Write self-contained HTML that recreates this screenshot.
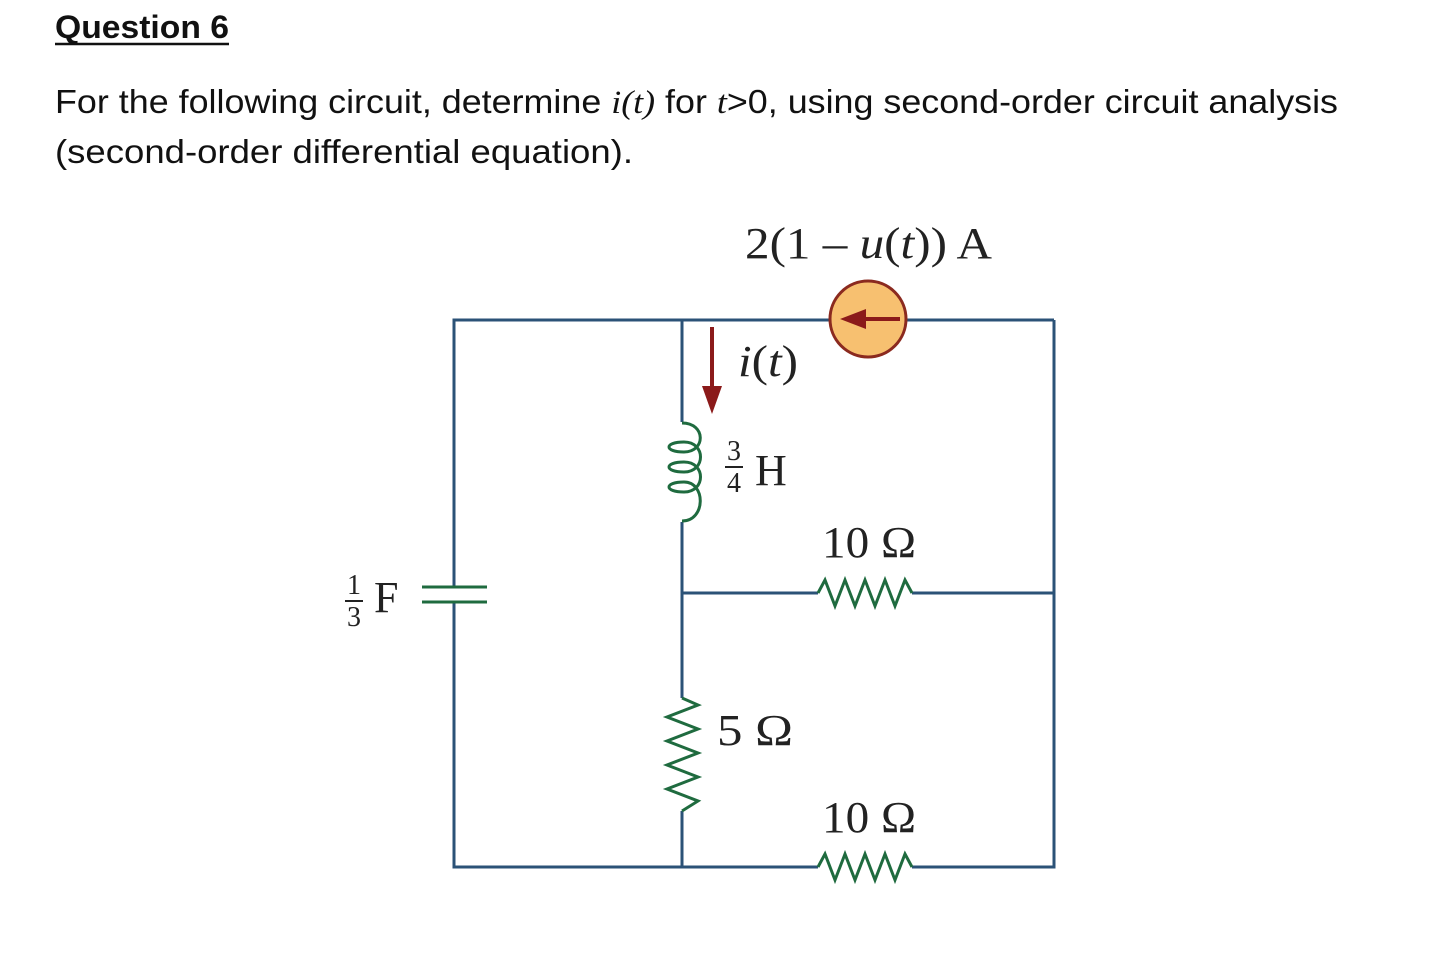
<!DOCTYPE html>
<html><head><meta charset="utf-8"><style>html,body{margin:0;padding:0;background:#fff}svg{display:block}</style></head>
<body>
<svg width="1433" height="977" viewBox="0 0 1433 977" xmlns="http://www.w3.org/2000/svg">
<g font-family="Liberation Sans, sans-serif" fill="#111">
<text x="55" y="38" font-size="32" font-weight="bold" textLength="174" lengthAdjust="spacingAndGlyphs">Question 6</text>
<line x1="55" y1="44" x2="229" y2="44" stroke="#111" stroke-width="2.5"/>
<text x="55" y="113" font-size="33" textLength="1283" lengthAdjust="spacingAndGlyphs">For the following circuit, determine <tspan font-family="Liberation Serif, serif" font-style="italic">i(t)</tspan> for <tspan font-family="Liberation Serif, serif" font-style="italic">t</tspan>&gt;0, using second-order circuit analysis</text>
<text x="55" y="163" font-size="33" textLength="578" lengthAdjust="spacingAndGlyphs">(second-order differential equation).</text>
</g>
<g fill="none" stroke="#2b5277" stroke-width="3">
<polyline points="830,320 454,320 454,587"/>
<polyline points="454,602 454,867 818,867"/>
<line x1="906" y1="320" x2="1054" y2="320"/>
<polyline points="1054,320 1054,867 912,867"/>
<line x1="682" y1="320" x2="682" y2="422"/>
<line x1="682" y1="522" x2="682" y2="698"/>
<line x1="682" y1="811" x2="682" y2="867"/>
<line x1="682" y1="593" x2="818" y2="593"/>
<line x1="912" y1="593" x2="1054" y2="593"/>
</g>
<g fill="none" stroke="#1f6b3f" stroke-width="3">
<line x1="422" y1="587" x2="487" y2="587"/>
<line x1="422" y1="602" x2="487" y2="602"/>
<path d="M682,423 C706,423 706,452 684,452 C664,452 664,442 684,442 C706,442 706,472 684,472 C664,472 664,462 684,462 C706,462 706,492 684,492 C664,492 664,482 684,482 C706,482 706,521 682,521"/>
<polyline points="682,698 698,705 667,717 698,729 667,741 698,753 667,765 698,777 667,789 698,801 682,811"/>
<polyline points="818,593 825,580 835,606 845,580 855,606 865,580 875,606 885,580 895,606 905,580 912,593"/>
<polyline points="818,867 825,854 835,880 845,854 855,880 865,854 875,880 885,854 895,880 905,854 912,867"/>
</g>
<circle cx="868" cy="319" r="38" fill="#f7c070" stroke="#8b2a1f" stroke-width="3"/>
<line x1="900" y1="319" x2="862" y2="319" stroke="#8b1a1a" stroke-width="4"/>
<polygon points="840,319 866,309 866,329" fill="#8b1a1a"/>
<line x1="712" y1="327" x2="712" y2="390" stroke="#8b1a1a" stroke-width="4"/>
<polygon points="702,386 722,386 712,414" fill="#8b1a1a"/>
<g font-family="Liberation Serif, serif" fill="#222" font-size="44">
<text x="745" y="258" textLength="247" lengthAdjust="spacingAndGlyphs">2(1 – <tspan font-style="italic">u</tspan>(<tspan font-style="italic">t</tspan>)) A</text>
<text x="738" y="376" textLength="60" lengthAdjust="spacingAndGlyphs"><tspan font-style="italic">i</tspan>(<tspan font-style="italic">t</tspan>)</text>
<text x="755" y="485">H</text>
<text x="822" y="557" textLength="94" lengthAdjust="spacingAndGlyphs">10 Ω</text>
<text x="717" y="745" textLength="76" lengthAdjust="spacingAndGlyphs">5 Ω</text>
<text x="822" y="832" textLength="94" lengthAdjust="spacingAndGlyphs">10 Ω</text>
<text x="374" y="612">F</text>
</g>
<g font-family="Liberation Serif, serif" fill="#222" font-size="28" text-anchor="middle">
<text x="734" y="460">3</text><line x1="725" y1="467" x2="743" y2="467" stroke="#222" stroke-width="2"/><text x="734" y="492">4</text>
<text x="354" y="594">1</text><line x1="345" y1="601" x2="363" y2="601" stroke="#222" stroke-width="2"/><text x="354" y="626">3</text>
</g>
</svg>
</body></html>
